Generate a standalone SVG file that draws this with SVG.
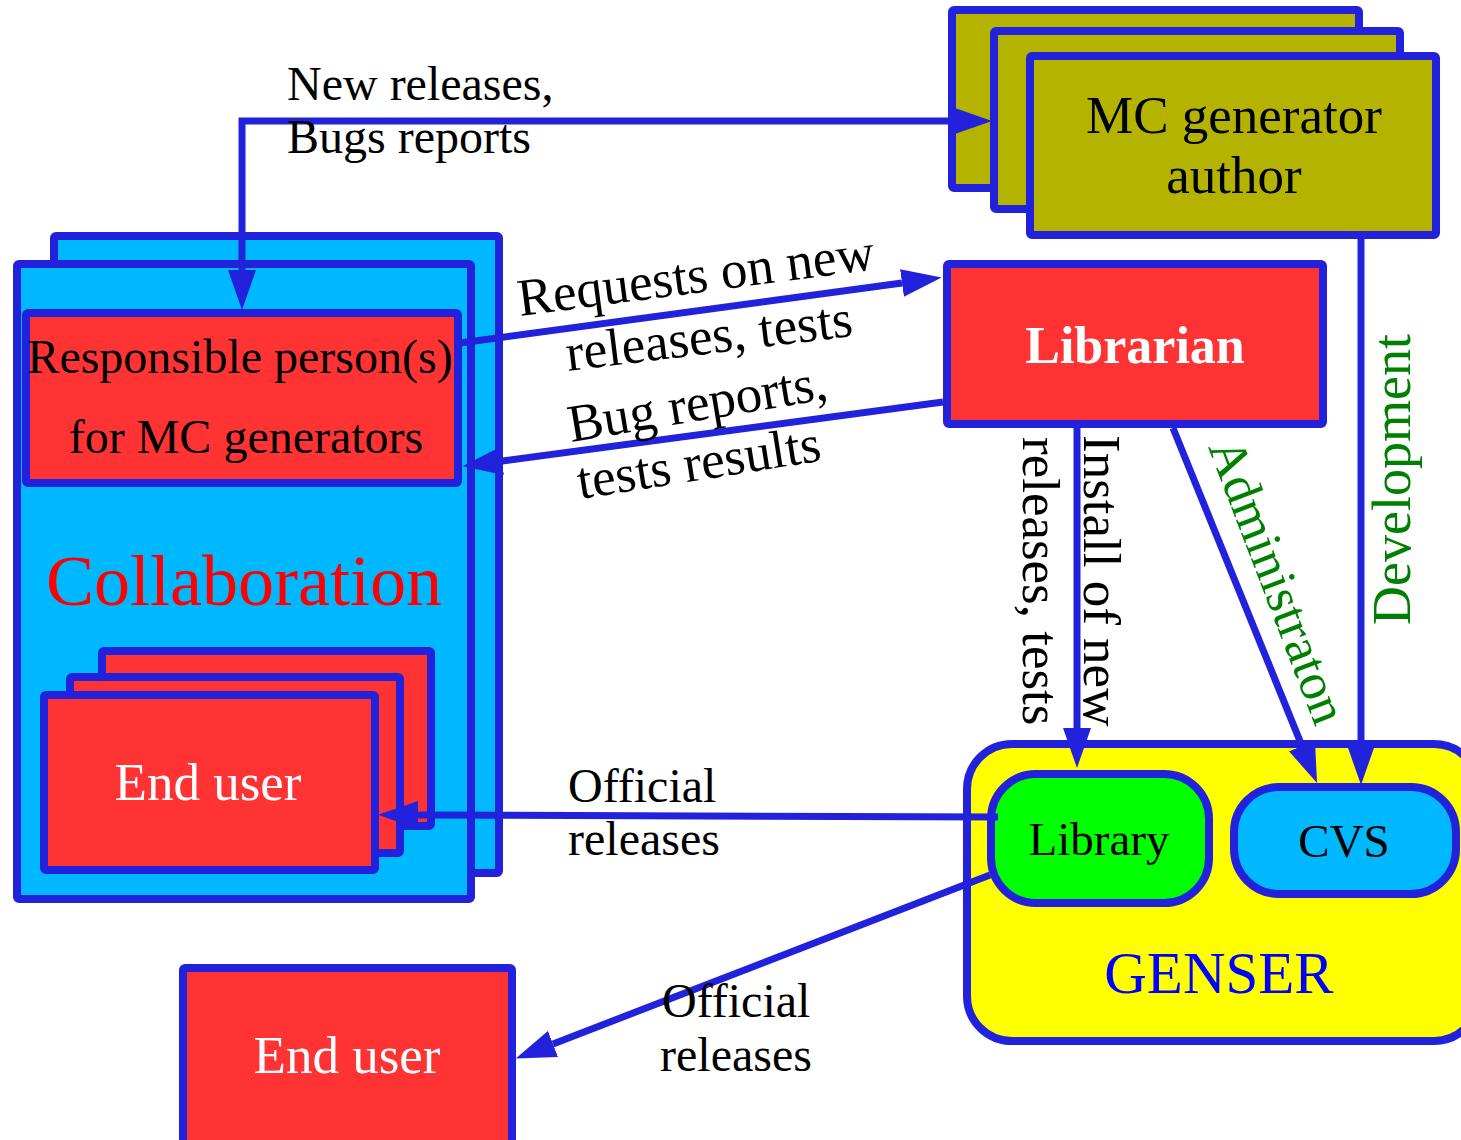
<svg xmlns="http://www.w3.org/2000/svg" width="1461" height="1140" viewBox="0 0 1461 1140">
<style>
.box{stroke:#2222DD;stroke-width:8;stroke-linejoin:round}
.mc{fill:#B4B400}
.cy{fill:#00B8FF}
.rd{fill:#FF3333}
.ye{fill:#FFFF00}
.gr{fill:#00FF00}
.con{fill:none;stroke:#2222DD;stroke-width:7}
text{font-family:"Liberation Serif","Times New Roman",serif}
.t48{font-size:48px}
.blk{fill:#000000}
.wht{fill:#FFFFFF}
.grn{fill:#008000}
.mid{text-anchor:middle}
</style>
<defs>
<marker id="ah" viewBox="0 0 40 28" refX="0" refY="14" markerWidth="40" markerHeight="28" markerUnits="userSpaceOnUse" orient="auto-start-reverse">
<path d="M0,0 L40,14 L0,28 Z" fill="#2222DD"/>
</marker>
</defs>
<rect width="1461" height="1140" fill="#FFFFFF"/>

<g id="mc-author">
<rect class="box mc" x="952" y="10" width="407" height="178" rx="2"/>
<rect class="box mc" x="994" y="31" width="406" height="178" rx="2"/>
<rect class="box mc" x="1030" y="56" width="406" height="179" rx="2"/>
<text class="blk mid" x="1234" y="133" font-size="53">MC generator</text>
<text class="blk mid" x="1234" y="193" font-size="53">author</text>
</g>

<g id="collaboration">
<rect class="box cy" x="54" y="236" width="445" height="637" rx="2"/>
<rect class="box cy" x="17" y="264" width="454" height="635" rx="2"/>
<text class="mid" x="244" y="605" font-size="72" fill="#FF0000">Collaboration</text>
</g>

<g id="responsible">
<rect class="box rd" x="26" y="313" width="432" height="170" rx="2"/>
<text class="blk mid t48" x="240" y="373">Responsible person(s)</text>
<text class="blk mid t48" x="246" y="453">for MC generators</text>
</g>

<g id="end-user-collab">
<rect class="box rd" x="102" y="651" width="329" height="175" rx="2"/>
<rect class="box rd" x="70" y="677" width="330" height="176" rx="2"/>
<rect class="box rd" x="44" y="695" width="331" height="175" rx="2"/>
<text class="wht mid" x="208" y="800" font-size="53">End user</text>
</g>

<g id="librarian">
<rect class="box rd" x="947" y="264" width="376" height="160" rx="2"/>
<text class="wht mid" x="1135" y="363" font-size="52" font-weight="bold">Librarian</text>
</g>

<g id="genser">
<rect class="box ye" x="967" y="744" width="512" height="297" rx="45"/>
<text class="mid" x="1219" y="993" font-size="59" fill="#0000FF">GENSER</text>
</g>

<g id="library">
<rect class="box gr" x="991" y="774" width="218" height="129" rx="45"/>
<text class="blk mid" x="1099" y="855" font-size="47">Library</text>
</g>

<g id="cvs">
<rect class="box cy" x="1234" y="787" width="222" height="107" rx="45"/>
<text class="blk mid" x="1344" y="857" font-size="47">CVS</text>
</g>

<g id="end-user">
<rect class="box rd" x="183" y="968" width="329" height="185" rx="2"/>
<text class="wht mid" x="347" y="1073" font-size="53">End user</text>
</g>

<g id="connectors">
<path class="con" d="M242,270 L242,121 L952,121" marker-start="url(#ah)" marker-end="url(#ah)"/>
<path class="con" d="M460,343 L902,283" marker-end="url(#ah)"/>
<path class="con" d="M943,402 L502,461" marker-end="url(#ah)"/>
<path class="con" d="M1077,428 L1077,728" marker-end="url(#ah)"/>
<path class="con" d="M1173,428 L1302,746" marker-end="url(#ah)"/>
<path class="con" d="M1361,239 L1361,745" marker-end="url(#ah)"/>
<path class="con" d="M998,817 L418,815" marker-end="url(#ah)"/>
<path class="con" d="M990,875 L553,1044" marker-end="url(#ah)"/>
</g>

<g id="labels">
<text class="blk t48" x="287" y="100">New releases,</text>
<text class="blk t48" x="287" y="153">Bugs reports</text>
<text class="blk" x="520" y="316" font-size="53" transform="rotate(-7.5 520 316)">Requests on new</text>
<text class="blk" x="568" y="371" font-size="53" transform="rotate(-7 568 371)">releases, tests</text>
<text class="blk" x="571" y="442" font-size="53" transform="rotate(-9.5 571 442)">Bug reports,</text>
<text class="blk" x="580" y="499" font-size="53" transform="rotate(-9 580 499)">tests results</text>
<text class="blk" x="1084" y="435" font-size="53" transform="rotate(90 1084 435)">Install of new</text>
<text class="blk" x="1023" y="437" font-size="53" transform="rotate(90 1023 437)">releases, tests</text>
<text class="grn" x="1208" y="447" font-size="52" transform="rotate(69 1208 447)">Administraton</text>
<text class="grn" x="1410" y="625" font-size="54" transform="rotate(-90 1410 625)">Development</text>
<text class="blk t48" x="568" y="802">Official</text>
<text class="blk t48" x="568" y="855">releases</text>
<text class="blk t48" x="662" y="1017">Official</text>
<text class="blk t48" x="660" y="1071">releases</text>
</g>
</svg>
